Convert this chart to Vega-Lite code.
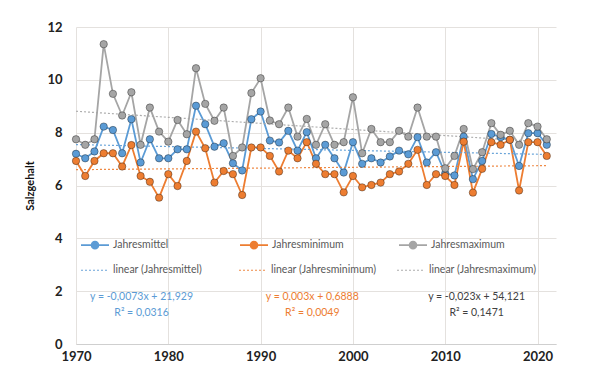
{
  "$schema": "https://vega.github.io/schema/vega-lite/v6.json",
  "width": 480,
  "height": 317,
  "autosize": {"type": "none"},
  "padding": {"left": 76, "top": 27, "right": 33, "bottom": 42},
  "background": "#ffffff",
  "config": {
    "font": "Lato",
    "view": {"stroke": null},
    "axis": {"gridColor": "#e4e1de", "gridWidth": 1, "ticks": false, "labelFont": "Lato", "titleFont": "Lato"}
  },
  "datasets": {
    "werte": [
      {"jahr":1970,"serie":"Jahresmittel","wert":7.2},{"jahr":1971,"serie":"Jahresmittel","wert":7.03},{"jahr":1972,"serie":"Jahresmittel","wert":7.29},{"jahr":1973,"serie":"Jahresmittel","wert":8.23},{"jahr":1974,"serie":"Jahresmittel","wert":8.1},{"jahr":1975,"serie":"Jahresmittel","wert":7.22},{"jahr":1976,"serie":"Jahresmittel","wert":8.51},{"jahr":1977,"serie":"Jahresmittel","wert":6.87},{"jahr":1978,"serie":"Jahresmittel","wert":7.75},{"jahr":1979,"serie":"Jahresmittel","wert":7.03},
      {"jahr":1980,"serie":"Jahresmittel","wert":7.03},{"jahr":1981,"serie":"Jahresmittel","wert":7.37},{"jahr":1982,"serie":"Jahresmittel","wert":7.37},{"jahr":1983,"serie":"Jahresmittel","wert":9.02},{"jahr":1984,"serie":"Jahresmittel","wert":8.32},{"jahr":1985,"serie":"Jahresmittel","wert":7.47},{"jahr":1986,"serie":"Jahresmittel","wert":7.6},{"jahr":1987,"serie":"Jahresmittel","wert":6.84},{"jahr":1988,"serie":"Jahresmittel","wert":6.57},{"jahr":1989,"serie":"Jahresmittel","wert":8.51},
      {"jahr":1990,"serie":"Jahresmittel","wert":8.8},{"jahr":1991,"serie":"Jahresmittel","wert":7.7},{"jahr":1992,"serie":"Jahresmittel","wert":7.63},{"jahr":1993,"serie":"Jahresmittel","wert":8.07},{"jahr":1994,"serie":"Jahresmittel","wert":7.32},{"jahr":1995,"serie":"Jahresmittel","wert":8.02},{"jahr":1996,"serie":"Jahresmittel","wert":7.03},{"jahr":1997,"serie":"Jahresmittel","wert":7.54},{"jahr":1998,"serie":"Jahresmittel","wert":7.03},{"jahr":1999,"serie":"Jahresmittel","wert":6.49},
      {"jahr":2000,"serie":"Jahresmittel","wert":7.64},{"jahr":2001,"serie":"Jahresmittel","wert":6.82},{"jahr":2002,"serie":"Jahresmittel","wert":7.03},{"jahr":2003,"serie":"Jahresmittel","wert":6.87},{"jahr":2004,"serie":"Jahresmittel","wert":7.1},{"jahr":2005,"serie":"Jahresmittel","wert":7.32},{"jahr":2006,"serie":"Jahresmittel","wert":7.18},{"jahr":2007,"serie":"Jahresmittel","wert":7.83},{"jahr":2008,"serie":"Jahresmittel","wert":6.87},{"jahr":2009,"serie":"Jahresmittel","wert":7.26},
      {"jahr":2010,"serie":"Jahresmittel","wert":6.46},{"jahr":2011,"serie":"Jahresmittel","wert":6.38},{"jahr":2012,"serie":"Jahresmittel","wert":7.85},{"jahr":2013,"serie":"Jahresmittel","wert":6.24},{"jahr":2014,"serie":"Jahresmittel","wert":6.93},{"jahr":2015,"serie":"Jahresmittel","wert":7.95},{"jahr":2016,"serie":"Jahresmittel","wert":7.83},{"jahr":2017,"serie":"Jahresmittel","wert":7.73},{"jahr":2018,"serie":"Jahresmittel","wert":6.74},{"jahr":2019,"serie":"Jahresmittel","wert":7.98},{"jahr":2020,"serie":"Jahresmittel","wert":7.98},{"jahr":2021,"serie":"Jahresmittel","wert":7.54},

      {"jahr":1970,"serie":"Jahresminimum","wert":6.93},{"jahr":1971,"serie":"Jahresminimum","wert":6.36},{"jahr":1972,"serie":"Jahresminimum","wert":6.93},{"jahr":1973,"serie":"Jahresminimum","wert":7.22},{"jahr":1974,"serie":"Jahresminimum","wert":7.22},{"jahr":1975,"serie":"Jahresminimum","wert":6.72},{"jahr":1976,"serie":"Jahresminimum","wert":7.53},{"jahr":1977,"serie":"Jahresminimum","wert":6.36},{"jahr":1978,"serie":"Jahresminimum","wert":6.14},{"jahr":1979,"serie":"Jahresminimum","wert":5.54},
      {"jahr":1980,"serie":"Jahresminimum","wert":6.43},{"jahr":1981,"serie":"Jahresminimum","wert":5.98},{"jahr":1982,"serie":"Jahresminimum","wert":6.93},{"jahr":1983,"serie":"Jahresminimum","wert":8.04},{"jahr":1984,"serie":"Jahresminimum","wert":7.41},{"jahr":1985,"serie":"Jahresminimum","wert":6.11},{"jahr":1986,"serie":"Jahresminimum","wert":6.55},{"jahr":1987,"serie":"Jahresminimum","wert":6.43},{"jahr":1988,"serie":"Jahresminimum","wert":5.64},{"jahr":1989,"serie":"Jahresminimum","wert":7.44},
      {"jahr":1990,"serie":"Jahresminimum","wert":7.44},{"jahr":1991,"serie":"Jahresminimum","wert":7.12},{"jahr":1992,"serie":"Jahresminimum","wert":6.53},{"jahr":1993,"serie":"Jahresminimum","wert":7.32},{"jahr":1994,"serie":"Jahresminimum","wert":7.03},{"jahr":1995,"serie":"Jahresminimum","wert":7.64},{"jahr":1996,"serie":"Jahresminimum","wert":6.82},{"jahr":1997,"serie":"Jahresminimum","wert":6.43},{"jahr":1998,"serie":"Jahresminimum","wert":6.43},{"jahr":1999,"serie":"Jahresminimum","wert":5.74},
      {"jahr":2000,"serie":"Jahresminimum","wert":6.36},{"jahr":2001,"serie":"Jahresminimum","wert":5.93},{"jahr":2002,"serie":"Jahresminimum","wert":6.02},{"jahr":2003,"serie":"Jahresminimum","wert":6.11},{"jahr":2004,"serie":"Jahresminimum","wert":6.43},{"jahr":2005,"serie":"Jahresminimum","wert":6.53},{"jahr":2006,"serie":"Jahresminimum","wert":6.82},{"jahr":2007,"serie":"Jahresminimum","wert":7.35},{"jahr":2008,"serie":"Jahresminimum","wert":6.02},{"jahr":2009,"serie":"Jahresminimum","wert":6.43},
      {"jahr":2010,"serie":"Jahresminimum","wert":6.36},{"jahr":2011,"serie":"Jahresminimum","wert":6.02},{"jahr":2012,"serie":"Jahresminimum","wert":7.66},{"jahr":2013,"serie":"Jahresminimum","wert":5.73},{"jahr":2014,"serie":"Jahresminimum","wert":6.63},{"jahr":2015,"serie":"Jahresminimum","wert":7.64},{"jahr":2016,"serie":"Jahresminimum","wert":7.54},{"jahr":2017,"serie":"Jahresminimum","wert":7.73},{"jahr":2018,"serie":"Jahresminimum","wert":5.81},{"jahr":2019,"serie":"Jahresminimum","wert":7.64},{"jahr":2020,"serie":"Jahresminimum","wert":7.64},{"jahr":2021,"serie":"Jahresminimum","wert":7.12},

      {"jahr":1970,"serie":"Jahresmaximum","wert":7.75},{"jahr":1971,"serie":"Jahresmaximum","wert":7.54},{"jahr":1972,"serie":"Jahresmaximum","wert":7.75},{"jahr":1973,"serie":"Jahresmaximum","wert":11.35},{"jahr":1974,"serie":"Jahresmaximum","wert":9.47},{"jahr":1975,"serie":"Jahresmaximum","wert":8.65},{"jahr":1976,"serie":"Jahresmaximum","wert":9.53},{"jahr":1977,"serie":"Jahresmaximum","wert":7.54},{"jahr":1978,"serie":"Jahresmaximum","wert":8.95},{"jahr":1979,"serie":"Jahresmaximum","wert":8.04},
      {"jahr":1980,"serie":"Jahresmaximum","wert":7.66},{"jahr":1981,"serie":"Jahresmaximum","wert":8.48},{"jahr":1982,"serie":"Jahresmaximum","wert":7.94},{"jahr":1983,"serie":"Jahresmaximum","wert":10.44},{"jahr":1984,"serie":"Jahresmaximum","wert":9.09},{"jahr":1985,"serie":"Jahresmaximum","wert":8.45},{"jahr":1986,"serie":"Jahresmaximum","wert":8.95},{"jahr":1987,"serie":"Jahresmaximum","wert":7.12},{"jahr":1988,"serie":"Jahresmaximum","wert":7.44},{"jahr":1989,"serie":"Jahresmaximum","wert":9.5},
      {"jahr":1990,"serie":"Jahresmaximum","wert":10.06},{"jahr":1991,"serie":"Jahresmaximum","wert":8.46},{"jahr":1992,"serie":"Jahresmaximum","wert":8.32},{"jahr":1993,"serie":"Jahresmaximum","wert":8.95},{"jahr":1994,"serie":"Jahresmaximum","wert":7.85},{"jahr":1995,"serie":"Jahresmaximum","wert":8.52},{"jahr":1996,"serie":"Jahresmaximum","wert":7.54},{"jahr":1997,"serie":"Jahresmaximum","wert":8.32},{"jahr":1998,"serie":"Jahresmaximum","wert":7.54},{"jahr":1999,"serie":"Jahresmaximum","wert":7.64},
      {"jahr":2000,"serie":"Jahresmaximum","wert":9.34},{"jahr":2001,"serie":"Jahresmaximum","wert":7.22},{"jahr":2002,"serie":"Jahresmaximum","wert":8.14},{"jahr":2003,"serie":"Jahresmaximum","wert":7.64},{"jahr":2004,"serie":"Jahresmaximum","wert":7.64},{"jahr":2005,"serie":"Jahresmaximum","wert":8.07},{"jahr":2006,"serie":"Jahresmaximum","wert":7.85},{"jahr":2007,"serie":"Jahresmaximum","wert":8.95},{"jahr":2008,"serie":"Jahresmaximum","wert":7.85},{"jahr":2009,"serie":"Jahresmaximum","wert":7.85},
      {"jahr":2010,"serie":"Jahresmaximum","wert":6.65},{"jahr":2011,"serie":"Jahresmaximum","wert":7.12},{"jahr":2012,"serie":"Jahresmaximum","wert":8.14},{"jahr":2013,"serie":"Jahresmaximum","wert":6.62},{"jahr":2014,"serie":"Jahresmaximum","wert":7.26},{"jahr":2015,"serie":"Jahresmaximum","wert":8.36},{"jahr":2016,"serie":"Jahresmaximum","wert":7.92},{"jahr":2017,"serie":"Jahresmaximum","wert":8.07},{"jahr":2018,"serie":"Jahresmaximum","wert":7.54},{"jahr":2019,"serie":"Jahresmaximum","wert":8.36},{"jahr":2020,"serie":"Jahresmaximum","wert":8.23},{"jahr":2021,"serie":"Jahresmaximum","wert":7.75}
    ],
    "trends": [
      {"jahr":1970,"trend":"linear (Jahresmittel)","wert":7.548},
      {"jahr":2021,"trend":"linear (Jahresmittel)","wert":7.176},
      {"jahr":1970,"trend":"linear (Jahresminimum)","wert":6.599},
      {"jahr":2021,"trend":"linear (Jahresminimum)","wert":6.752},
      {"jahr":1970,"trend":"linear (Jahresmaximum)","wert":8.811},
      {"jahr":2021,"trend":"linear (Jahresmaximum)","wert":7.638}
    ],
    "gleichungen": [
      {"jahr":1977.1,"wert":1.78,"gruppe":"Mittel","text":"y = -0,0073x + 21,929"},
      {"jahr":1977.1,"wert":1.17,"gruppe":"Mittel","text":"R² = 0,0316"},
      {"jahr":1995.6,"wert":1.78,"gruppe":"Minimum","text":"y = 0,003x + 0,6888"},
      {"jahr":1995.6,"wert":1.17,"gruppe":"Minimum","text":"R² = 0,0049"},
      {"jahr":2013.4,"wert":1.78,"gruppe":"Maximum","text":"y = -0,023x + 54,121"},
      {"jahr":2013.4,"wert":1.17,"gruppe":"Maximum","text":"R² = 0,1471"}
    ]
  },
  "encoding": {
    "x": {
      "field": "jahr", "type": "quantitative",
      "scale": {"domain": [1970, 2022], "nice": false, "zero": false},
      "axis": {"title": null, "values": [1970, 1980, 1990, 2000, 2010, 2020], "format": "d", "labelFontSize": 13, "labelFontWeight": "bold", "labelColor": "#222222", "labelPadding": 6, "domainColor": "#cfcfcf", "labelFlush": false}
    },
    "y": {
      "field": "wert", "type": "quantitative",
      "scale": {"domain": [0, 12], "nice": false},
      "axis": {"title": "Salzgehalt", "values": [0, 2, 4, 6, 8, 10, 12], "labelFontSize": 13, "labelFontWeight": "bold", "labelColor": "#222222", "labelPadding": 14, "domain": false, "titleFontSize": 11, "titleFontWeight": "bold", "titleColor": "#111111", "titlePadding": 11}
    }
  },
  "layer": [
    {
      "data": {"name": "werte"},
      "mark": {"type": "line", "strokeWidth": 1.8},
      "encoding": {
        "color": {
          "field": "serie", "type": "nominal",
          "scale": {"domain": ["Jahresmittel", "Jahresminimum", "Jahresmaximum"], "range": ["#5b9bd5", "#ed7d31", "#a5a5a5"]},
          "legend": {
            "orient": "none", "legendX": 4, "legendY": 203, "direction": "horizontal", "columns": 3, "title": null,
            "gridAlign": "all", "columnPadding": 49,
            "symbolType": "M-1,0H1M0.25,0A0.25,0.25,0,1,1,-0.25,0A0.25,0.25,0,1,1,0.25,0Z",
            "symbolSize": 784, "symbolStrokeWidth": 1.6,
            "labelFont": "Lato", "labelFontSize": 10.5, "labelColor": "#595959", "labelOffset": 3,
            "encode": {"symbols": {"update": {"fill": {"scale": "color", "field": "value"}, "stroke": {"scale": "color", "field": "value"}}}}
          }
        }
      }
    },
    {
      "data": {"name": "trends"},
      "mark": {"type": "line", "strokeWidth": 1.2, "strokeDash": [2, 2], "opacity": 0.9},
      "encoding": {
        "stroke": {
          "field": "trend", "type": "nominal",
          "scale": {"domain": ["linear (Jahresmittel)", "linear (Jahresminimum)", "linear (Jahresmaximum)"], "range": ["#5b9bd5", "#ed7d31", "#a5a5a5"]},
          "legend": {
            "orient": "none", "legendX": 4, "legendY": 228, "direction": "horizontal", "columns": 3, "title": null,
            "gridAlign": "all", "columnPadding": 15,
            "symbolType": "stroke", "symbolSize": 784, "symbolStrokeWidth": 1.2, "symbolDash": [2, 2],
            "labelFont": "Lato", "labelFontSize": 10.5, "labelColor": "#595959", "labelOffset": 3
          }
        }
      }
    },
    {
      "data": {"name": "werte"},
      "mark": {"type": "point", "filled": true, "size": 55, "strokeWidth": 1, "opacity": 1, "stroke": "#000000", "strokeOpacity": 0.35},
      "encoding": {
        "color": {"field": "serie", "type": "nominal"}
      }
    },
    {
      "data": {"name": "gleichungen"},
      "mark": {"type": "text", "fontSize": 10.5, "font": "Lato", "align": "center", "baseline": "middle"},
      "encoding": {
        "text": {"field": "text"},
        "fill": {
          "field": "gruppe", "type": "nominal",
          "scale": {"domain": ["Mittel", "Minimum", "Maximum"], "range": ["#5b9bd5", "#ed7d31", "#404040"]},
          "legend": null
        }
      }
    }
  ]
}
